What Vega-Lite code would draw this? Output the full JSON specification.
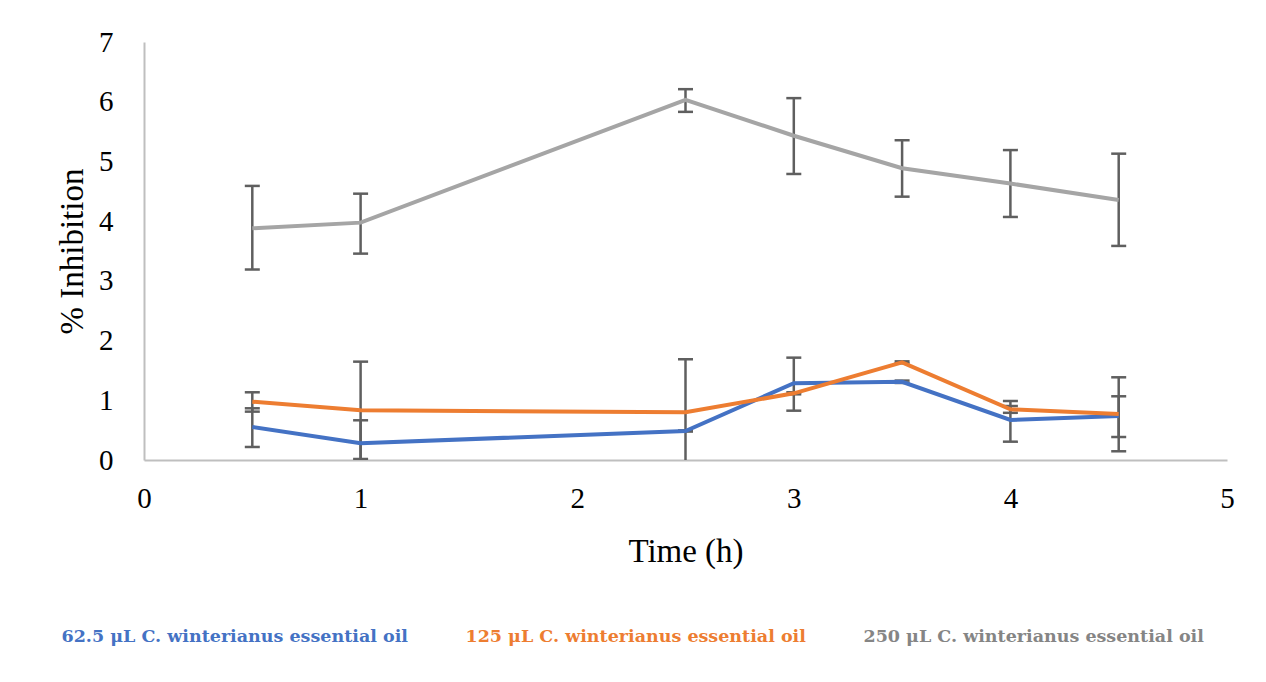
{
  "$schema": "https://vega.github.io/schema/vega-lite/v6.json",
  "width": 1083,
  "height": 418,
  "autosize": {"type": "none"},
  "padding": {"left": 144, "top": 42, "right": 39, "bottom": 222},
  "background": "white",
  "config": {
    "view": {"stroke": null},
    "font": "Liberation Serif",
    "axis": {
      "grid": false,
      "ticks": false,
      "tickSize": 0,
      "domainColor": "#bfbfbf",
      "domainWidth": 2,
      "labelFont": "Liberation Serif",
      "labelFontSize": 29,
      "labelColor": "#000000",
      "titleFont": "Liberation Serif",
      "titleFontSize": 33,
      "titleFontWeight": "normal",
      "titleColor": "#000000"
    }
  },
  "data": {
    "values": [
      {"series": "62.5 μL C. winterianus essential oil", "time": 0.5, "value": 0.553, "lo": 0.218, "hi": 0.866},
      {"series": "62.5 μL C. winterianus essential oil", "time": 1, "value": 0.28, "lo": -0.105, "hi": 0.665},
      {"series": "62.5 μL C. winterianus essential oil", "time": 2.5, "value": 0.486, "lo": 0.476, "hi": 0.496},
      {"series": "62.5 μL C. winterianus essential oil", "time": 3, "value": 1.285, "lo": 0.826, "hi": 1.714},
      {"series": "62.5 μL C. winterianus essential oil", "time": 3.5, "value": 1.31, "lo": 1.29, "hi": 1.33},
      {"series": "62.5 μL C. winterianus essential oil", "time": 4, "value": 0.67, "lo": 0.307, "hi": 0.988},
      {"series": "62.5 μL C. winterianus essential oil", "time": 4.5, "value": 0.737, "lo": 0.385, "hi": 1.067},
      {"series": "125 μL C. winterianus essential oil", "time": 0.5, "value": 0.977, "lo": 0.81, "hi": 1.134},
      {"series": "125 μL C. winterianus essential oil", "time": 1, "value": 0.832, "lo": 0.017, "hi": 1.647},
      {"series": "125 μL C. winterianus essential oil", "time": 2.5, "value": 0.8, "lo": -0.087, "hi": 1.687},
      {"series": "125 μL C. winterianus essential oil", "time": 3, "value": 1.117, "lo": 1.1, "hi": 1.134},
      {"series": "125 μL C. winterianus essential oil", "time": 3.5, "value": 1.636, "lo": 1.62, "hi": 1.652},
      {"series": "125 μL C. winterianus essential oil", "time": 4, "value": 0.849, "lo": 0.79, "hi": 0.904},
      {"series": "125 μL C. winterianus essential oil", "time": 4.5, "value": 0.77, "lo": 0.146, "hi": 1.385},
      {"series": "250 μL C. winterianus essential oil", "time": 0.5, "value": 3.88, "lo": 3.19, "hi": 4.59},
      {"series": "250 μL C. winterianus essential oil", "time": 1, "value": 3.975, "lo": 3.456, "hi": 4.46},
      {"series": "250 μL C. winterianus essential oil", "time": 2.5, "value": 6.03, "lo": 5.83, "hi": 6.21},
      {"series": "250 μL C. winterianus essential oil", "time": 3, "value": 5.43, "lo": 4.79, "hi": 6.06},
      {"series": "250 μL C. winterianus essential oil", "time": 3.5, "value": 4.886, "lo": 4.41, "hi": 5.355},
      {"series": "250 μL C. winterianus essential oil", "time": 4, "value": 4.63, "lo": 4.07, "hi": 5.19},
      {"series": "250 μL C. winterianus essential oil", "time": 4.5, "value": 4.355, "lo": 3.585, "hi": 5.13}
    ]
  },
  "layer": [
    {
      "mark": {"type": "rule", "color": "#5f5f5f", "strokeWidth": 2.5, "clip": true},
      "encoding": {
        "x": {"field": "time", "type": "quantitative"},
        "y": {"field": "lo", "type": "quantitative"},
        "y2": {"field": "hi"}
      }
    },
    {
      "mark": {"type": "tick", "orient": "horizontal", "color": "#5f5f5f", "size": 15, "thickness": 2.5, "opacity": 1, "clip": true},
      "encoding": {
        "x": {"field": "time", "type": "quantitative"},
        "y": {"field": "lo", "type": "quantitative"}
      }
    },
    {
      "mark": {"type": "tick", "orient": "horizontal", "color": "#5f5f5f", "size": 15, "thickness": 2.5, "opacity": 1, "clip": true},
      "encoding": {
        "x": {"field": "time", "type": "quantitative"},
        "y": {"field": "hi", "type": "quantitative"}
      }
    },
    {
      "mark": {"type": "line", "strokeWidth": 4},
      "encoding": {
        "x": {
          "field": "time",
          "type": "quantitative",
          "scale": {"domain": [0, 5], "nice": false, "zero": false},
          "axis": {"title": "Time (h)", "values": [0, 1, 2, 3, 4, 5], "format": "d", "labelPadding": 24, "titlePadding": 22, "labelFlush": false}
        },
        "y": {
          "field": "value",
          "type": "quantitative",
          "scale": {"domain": [0, 7], "nice": false},
          "axis": {"title": "% Inhibition", "values": [0, 1, 2, 3, 4, 5, 6, 7], "format": "d", "labelPadding": 31, "titlePadding": 9, "labelFlush": false}
        },
        "color": {
          "field": "series",
          "type": "nominal",
          "sort": null,
          "scale": {
            "domain": ["62.5 μL C. winterianus essential oil", "125 μL C. winterianus essential oil", "250 μL C. winterianus essential oil"],
            "range": ["#4472c4", "#ed7d31", "#a5a5a5"]
          },
          "legend": {
            "title": null,
            "orient": "none",
            "direction": "horizontal",
            "columns": 3,
            "legendX": -100,
            "legendY": 586,
            "symbolSize": 0,
            "symbolOpacity": 0,
            "symbolStrokeWidth": 0,
            "labelOffset": 0,
            "labelFont": "DejaVu Serif",
            "labelFontSize": 17.5,
            "labelFontWeight": "bold",
            "labelLimit": 500,
            "columnPadding": 40,
            "encode": {
              "labels": {"update": {"fill": {"signal": "datum.index === 2 ? '#858585' : scale('color', datum.value)"}}}
            }
          }
        }
      }
    }
  ]
}
